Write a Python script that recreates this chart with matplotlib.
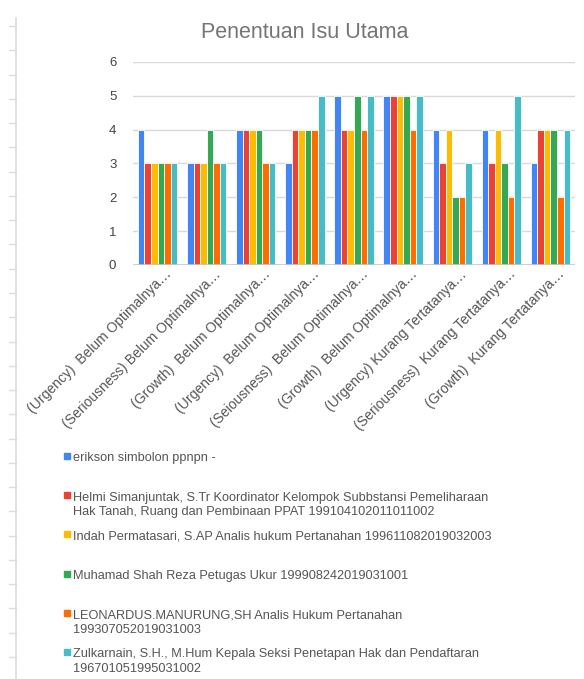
import numpy as np
import matplotlib
matplotlib.use("Agg")
import matplotlib.pyplot as plt
from matplotlib.lines import Line2D
from matplotlib.patches import Rectangle
import matplotlib.transforms as mtransforms

plt.rcParams['font.family'] = ['Liberation Sans', 'DejaVu Sans']

categories = [
    "(Urgency)  Belum Optimalnya…",
    "(Seriousness) Belum Optimalnya…",
    "(Growth)  Belum Optimalnya…",
    "(Urgency)  Belum Optimalnya…",
    "(Seiousness)  Belum Optimalnya…",
    "(Growth)  Belum Optimalnya…",
    "(Urgency) Kurang Tertatanya…",
    "(Seriousness)  Kurang Tertatanya…",
    "(Growth)  Kurang Tertatanya…",
]

respondents = [
    "erikson simbolon ppnpn -",
    "Helmi Simanjuntak, S.Tr Koordinator Kelompok Subbstansi Pemeliharaan\nHak Tanah, Ruang dan Pembinaan PPAT 199104102011011002",
    "Indah Permatasari, S.AP Analis hukum Pertanahan 199611082019032003",
    "Muhamad Shah Reza Petugas Ukur 199908242019031001",
    "LEONARDUS.MANURUNG,SH Analis Hukum Pertanahan\n199307052019031003",
    "Zulkarnain, S.H., M.Hum Kepala Seksi Penetapan Hak dan Pendaftaran\n196701051995031002",
]

# scores per respondent, one value per category
erikson = [4, 3, 4, 3, 5, 5, 4, 4, 3]
helmi = [3, 3, 4, 4, 4, 5, 3, 3, 4]
indah = [3, 3, 4, 4, 4, 5, 4, 4, 4]
muhamad = [3, 4, 4, 4, 5, 5, 2, 3, 4]
leonardus = [3, 3, 3, 4, 4, 4, 2, 2, 2]
zulkarnain = [3, 3, 3, 5, 5, 5, 3, 5, 4]
scores = [erikson, helmi, indah, muhamad, leonardus, zulkarnain]

colors = ["#4285F4", "#EA4335", "#FBBC04", "#34A853", "#FF6D01", "#46BDC6"]

W, H = 584, 679
fig = plt.figure(figsize=(W / 100, H / 100), dpi=100)
ax = fig.add_axes([133 / W, 1 - 265 / H, 442 / W, 203 / H])

x = np.arange(len(categories))
n = len(scores)
bw = 0.8 / n
for i, (vals, c) in enumerate(zip(scores, colors)):
    ax.bar(x - 0.4 + bw * (i + 0.5), vals, bw, color=c,
           edgecolor="white", linewidth=0.6, zorder=3)

ax.set_xlim(-0.5, len(categories) - 0.5)
ax.set_ylim(0, 6)
ax.set_yticks(range(7))
ax.grid(axis="y", color="#d9d9d9", linewidth=1, zorder=0)
ax.axhline(0, color="#c8c8c8", linewidth=1.2, zorder=4)
for s in ax.spines.values():
    s.set_visible(False)
ax.tick_params(axis="both", length=0, labelsize=9.5, labelcolor="#444444")
ax.tick_params(axis="y", pad=12)

ax.set_xticks(x)
ax.set_xticklabels([])
offset = mtransforms.ScaledTranslation(12 / 100, -7 / 100, fig.dpi_scale_trans)
for xi, lab in zip(x, categories):
    ax.text(xi, 0, lab, transform=ax.get_xaxis_transform() + offset,
            rotation=45, rotation_mode="anchor", ha="right", va="center",
            fontsize=10, color="#555555")

fig.text(305 / W, 1 - 32 / H, "Penentuan Isu Utama", ha="center", va="center",
         fontsize=15.5, color="#757575")

# legend block under the chart
y0 = 456
pitch = 39.2
for i, (name, c) in enumerate(zip(respondents, colors)):
    yc = y0 + i * pitch
    fig.patches.append(Rectangle((64 / W, 1 - (yc + 3) / H), 6 / W, 6 / H,
                                 transform=fig.transFigure, color=c))
    fig.text(73 / W, 1 - (yc - 3.5) / H, name, ha="left", va="top",
             fontsize=9.2, color="#555555", linespacing=1.28)

# spreadsheet ruler strip on the left edge
fig.add_artist(Line2D([16 / W, 16 / W], [0, 1 - 18 / H], transform=fig.transFigure,
                      color="#dcdcdc", linewidth=1.2))
for k in range(27):
    ty = 1 - (26 + 24.27 * k) / H
    fig.add_artist(Line2D([9 / W, 16 / W], [ty, ty], transform=fig.transFigure,
                          color="#dcdcdc", linewidth=1))

fig.savefig("out.png", dpi=100, facecolor="white")
